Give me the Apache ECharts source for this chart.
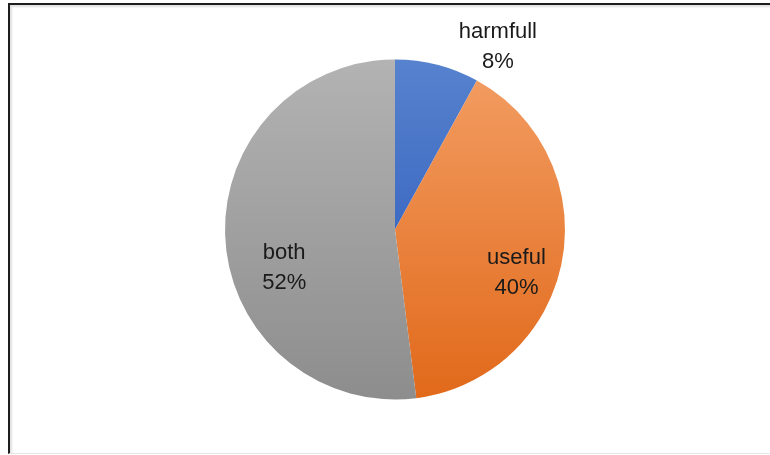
<!DOCTYPE html>
<html>
<head>
<meta charset="utf-8">
<script src="https://cdn.jsdelivr.net/npm/echarts@6/dist/echarts.min.js"></script>
<style>
  html, body { margin: 0; padding: 0; background: #fff; }
  #frame {
    position: absolute; left: 8px; top: 3px; width: 770px; height: 448px;
    border-left: 2px solid #1e1e1e; border-top: 2px solid #1e1e1e;
    border-bottom: 1px solid #e6e6e6;
    box-shadow: inset 2px 2px 2px rgba(0,0,0,0.12);
  }
  #chart { position: absolute; left: 0; top: 0; width: 770px; height: 455px; }
</style>
</head>
<body>
<div id="frame"></div>
<div id="chart"></div>
<script>
// Share of answers per category, in percent
const categories = ['harmfull', 'useful', 'both'];
const shares = [8, 40, 52];

// Top/bottom shades of each slice's vertical gradient
const topColors = ['#5782CE', '#F29B60', '#B3B3B3'];
const bottomColors = ['#3E6BC3', '#E1691A', '#8D8D8D'];

// Label nudges away from the default inside anchor
const labelOffsets = [[81, -97], [35, 27], [-23, 33]];

const chart = echarts.init(document.getElementById('chart'), null, { renderer: 'canvas' });

const data = categories.map((name, i) => ({
  name: name,
  value: shares[i],
  itemStyle: {
    color: new echarts.graphic.LinearGradient(0, 0, 0, 1, [
      { offset: 0, color: topColors[i] },
      { offset: 1, color: bottomColors[i] }
    ])
  },
  label: { offset: labelOffsets[i] }
}));

chart.setOption({
  animation: false,
  series: [{
    type: 'pie',
    center: [395, 229.5],
    radius: [0, 170],
    startAngle: 90,
    clockwise: true,
    avoidLabelOverlap: false,
    itemStyle: { borderWidth: 0 },
    label: {
      show: true,
      position: 'inside',
      formatter: p => p.name + '\n' + p.value + '%',
      fontFamily: 'Liberation Sans, Arial, sans-serif',
      fontSize: 22,
      lineHeight: 30,
      color: '#1a1a1a',
      align: 'center'
    },
    labelLine: { show: false },
    emphasis: { disabled: true },
    data: data
  }]
});
</script>
</body>
</html>
